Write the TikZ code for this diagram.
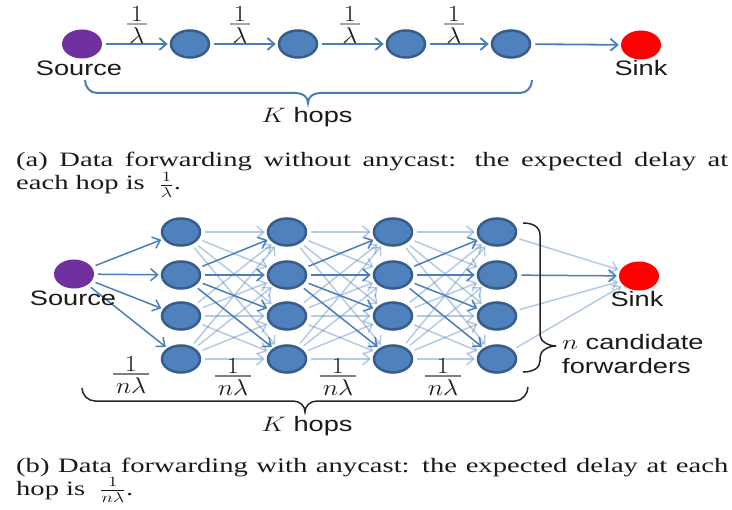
\RequirePackage{fix-cm}
\documentclass[tikz,border=0pt]{standalone}
\usepackage{fontspec}
\usepackage{graphicx}
\usetikzlibrary{shapes.geometric,arrows.meta}
\newfontfamily\lblfont{Liberation Sans}
\newfontfamily\capfont{Liberation Serif}
\newcommand\wsans[1]{\scalebox{1.3}[1]{#1}}
\newcommand\wfr[1]{\scalebox{1.15}[1]{#1}}
\newcommand\wcap[1]{\scalebox{1.4}[1]{#1}}
% stacked fraction: #1 bar colour, #2 numerator, #3 denominator
\newcommand\ofrac[3]{\vbox{\offinterlineskip\halign{\hfil##\hfil\cr
  \hbox{\kern2pt#2\kern2pt}\cr\noalign{\kern2pt}
  {\color{#1}\leaders\hrule height 1.5pt\hfill}\cr\noalign{\kern2.5pt}
  \hbox{\kern2pt#3\kern2pt}\cr}}}
\definecolor{srcpurple}{HTML}{7030A0}
\definecolor{nodeblue}{HTML}{4F81BD}
\definecolor{nodeborder}{HTML}{385D8A}
\definecolor{arrowblue}{HTML}{4A7EBB}
\definecolor{bracegray}{HTML}{262626}
\definecolor{txt}{HTML}{1A1A1A}
\definecolor{bargray}{HTML}{A6A6A6}
\definecolor{bargrayb}{HTML}{7F7F7F}
\begin{document}
\begin{tikzpicture}[x=1bp,y=-1bp,
  dot/.style={ellipse,minimum width=38bp,minimum height=27bp,inner sep=0pt,fill=nodeblue,draw=nodeborder,line width=2.5bp},
  srcdot/.style={ellipse,minimum width=40bp,minimum height=29bp,inner sep=0pt,fill=srcpurple},
  sinkdot/.style={ellipse,minimum width=40bp,minimum height=29bp,inner sep=0pt,fill=red},
  arr/.style={draw=arrowblue,line width=1.8bp,-{Straight Barb[length=7bp,width=12bp]},shorten <=4bp,shorten >=2bp},
  darkarr/.style={arr,line width=1.5bp},
  lightarr/.style={arr,line width=1.5bp,draw opacity=0.4},
  lbl/.style={font=\lblfont\fontsize{21}{24}\selectfont,text=txt,inner sep=0pt,anchor=base},
  lbll/.style={lbl,anchor=base west},
  captext/.style={font=\capfont\fontsize{20.5}{23}\selectfont,text=txt,inner sep=0pt,anchor=base west},
  fr/.style={font=\fontsize{23}{26}\selectfont,text=txt,inner sep=0pt},
  bracea/.style={draw=arrowblue,line width=2bp},
  braceb/.style={draw=bracegray,line width=1.5bp}
]
\useasboundingbox (0,0) rectangle (732,510);
\fill[white] (0,0) rectangle (732,510);

% ---------------- (a) ----------------
\node[srcdot] (as) at (82,44) {};
\node[dot] (a1) at (190,44) {};
\node[dot] (a2) at (298,44) {};
\node[dot] (a3) at (406,44) {};
\node[dot] (a4) at (511,44) {};
\node[sinkdot] (ak) at (641,45) {};
\draw[arr] (as) -- (a1);
\draw[arr] (a1) -- (a2);
\draw[arr] (a2) -- (a3);
\draw[arr] (a3) -- (a4);
\draw[arr] (a4) -- (ak);
\foreach \x/\n in {137/1,240/2,350/3,454/4}
  \node[fr] (af\n) at (\x,25) {\wfr{\ofrac{bargray}{$1$}{$\lambda$}}};
\node[lbl] (asl) at (79,76) {\wsans{Source}};
\node[lbl] (akl) at (641,76) {\wsans{Sink}};
\draw[bracea] (85,80) .. controls (85,87) and (90,93) .. (97,93) -- (296,93)
  .. controls (303,93) and (308,97) .. (308,103)
  .. controls (308,97) and (313,93) .. (320,93) -- (520,93)
  .. controls (527,93) and (532,87) .. (532,80);
\node[lbl] (ahops) at (307,123) {\wsans{$K$ hops}};

\node[captext] (capa1) at (16,167) {\wcap{\makebox[508.6bp][s]{(a) Data forwarding without anycast: the expected delay at}}};
\node[captext] (capa2) at (16,190) {\wcap{each hop is \ $\frac{1}{\lambda}$.}};

% ---------------- (b) ----------------
\node[srcdot] (bs) at (74,274) {};
\node[sinkdot] (bk) at (639,276) {};
\foreach \c/\x in {1/181,2/287,3/393,4/497}
  \foreach \r/\y in {1/232,2/275,3/316,4/359}
    \node[dot] (n\c\r) at (\x,\y) {};

\foreach \c [evaluate=\c as \d using int(\c+1)] in {1,2,3} {
  \foreach \r in {1,3,4}
    \foreach \s in {1,2,3,4}
      \draw[lightarr] (n\c\r) -- (n\d\s);
}
\foreach \c [evaluate=\c as \d using int(\c+1)] in {1,2,3} {
  \foreach \s in {1,2,3,4}
    \draw[darkarr] (n\c2) -- (n\d\s);
}
\foreach \s in {1,2,3,4}
  \draw[darkarr] (bs) -- (n1\s);
\foreach \r in {1,3,4}
  \draw[lightarr] (n4\r) -- (bk);
\draw[darkarr] (n42) -- (bk);

\node[lbl] (bsl) at (73,305) {\wsans{Source}};
\node[lbl] (bkl) at (637,306) {\wsans{Sink}};

\foreach \x/\y/\n in {131/375/1,233/377/2,338/377/3,443/377/4}
  \node[fr] (bf\n) at (\x,\y) {\wfr{\ofrac{bargrayb}{$1$}{$n\lambda$}}};

\draw[braceb] (523,223) .. controls (533,223) and (540,227) .. (540,235) -- (540,335)
  .. controls (540,341) and (548,346) .. (556,346)
  .. controls (548,346) and (540,351) .. (540,357) -- (540,361)
  .. controls (540,368) and (533,372) .. (523,372);
\node[lbll] (cand1) at (562,349) {\wsans{$n$ candidate}};
\node[lbll] (cand2) at (562,373) {\wsans{forwarders}};

\draw[braceb] (82,388) .. controls (82,395) and (88,401) .. (95,401) -- (293,401)
  .. controls (300,401) and (305,406) .. (305,412)
  .. controls (305,406) and (310,401) .. (317,401) -- (515,401)
  .. controls (522,401) and (528,394) .. (528,387);
\node[lbl] (bhops) at (307,431) {\wsans{$K$ hops}};

\node[captext] (capb1) at (16,472) {\wcap{\makebox[508.6bp][s]{(b) Data forwarding with anycast: the expected delay at each}}};
\node[captext] (capb2) at (16,495) {\wcap{hop is \ $\frac{1}{n\lambda}$.}};
\end{tikzpicture}
\end{document}
